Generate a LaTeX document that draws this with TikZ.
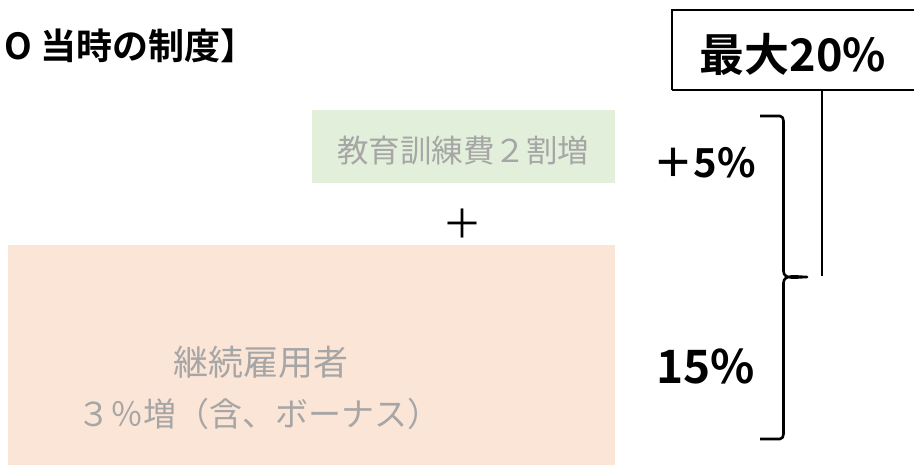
\documentclass[tikz,border=0pt]{standalone}
\usepackage{fontspec}
\newfontfamily\jp{Noto Sans CJK JP}
\newfontfamily\jpb{Noto Sans CJK JP Bold}
\definecolor{greenfill}{HTML}{E2EFDA}
\definecolor{salmonfill}{HTML}{FBE5D6}
\definecolor{greytext}{HTML}{A6A6A6}
\tikzset{
  boldlabel/.style={inner sep=0pt, anchor=center, text=black},
  greylabel/.style={inner sep=0pt, text=greytext, align=center},
  heavyline/.style={line width=2.6pt, black},
}
\begin{document}
\begin{tikzpicture}[x=1pt,y=-1pt]
\useasboundingbox (0,0) rectangle (914,465);
\begin{scope}
\clip (0,0) rectangle (914,465);
% boxes
\node[fill=greenfill, minimum width=303, minimum height=73, inner sep=0pt, anchor=north west] (green) at (312,110) {};
\node[fill=salmonfill, minimum width=607, minimum height=220, inner sep=0pt, anchor=north west] (salmon) at (8,245) {};
\node[greylabel, font=\jp\fontsize{31.5}{31.5}\selectfont] (gtext) at (463,151) {教育訓練費２割増};
\node[greylabel, font=\jp\fontsize{35}{35}\selectfont] (stext1) at (261,362) {継続雇用者};
\node[greylabel, font=\jp\fontsize{33}{33}\selectfont] (stext2) at (259,414) {３％増（含、ボーナス）};
\node[inner sep=0pt, font=\jp\fontsize{40}{40}\selectfont] (plus) at (462,224) {＋};
% title
\node[inner sep=0pt, anchor=west, font=\jpb\fontsize{36}{36}\selectfont] (title) at (4,46) {O 当時の制度】};
% max box
\draw[line width=1.6pt] (672,90) -- (672,10) -- (930,10);
\draw[line width=1.6pt] (672,90) -- (930,90);
\node[boldlabel, font=\jpb\fontsize{45}{45}\selectfont] (max) at (793,54) {最大20\%};
\coordinate (maxbot) at (822,90);
\coordinate (lineend) at (822,276);
\draw[line width=2pt] (maxbot) -- (lineend);
% brace
\coordinate (btop) at (760,116);
\coordinate (bmid) at (807,277);
\coordinate (bbot) at (760,439);
\draw[heavyline, line join=round] (btop) -- (780,116) to[out=0,in=90] (783.5,121) -- (783.5,271) to[out=270,in=180] (bmid) to[out=180,in=90] (783.5,283) -- (783.5,434) to[out=270,in=0] (780,439) -- (bbot);
% percent labels
\node[boldlabel, font=\jpb\fontsize{40}{40}\selectfont] (p5) at (705,163) {＋5\%};
\node[boldlabel, font=\jpb\fontsize{46}{46}\selectfont] (p15) at (706,366) {15\%};
\end{scope}
\end{tikzpicture}
\end{document}
